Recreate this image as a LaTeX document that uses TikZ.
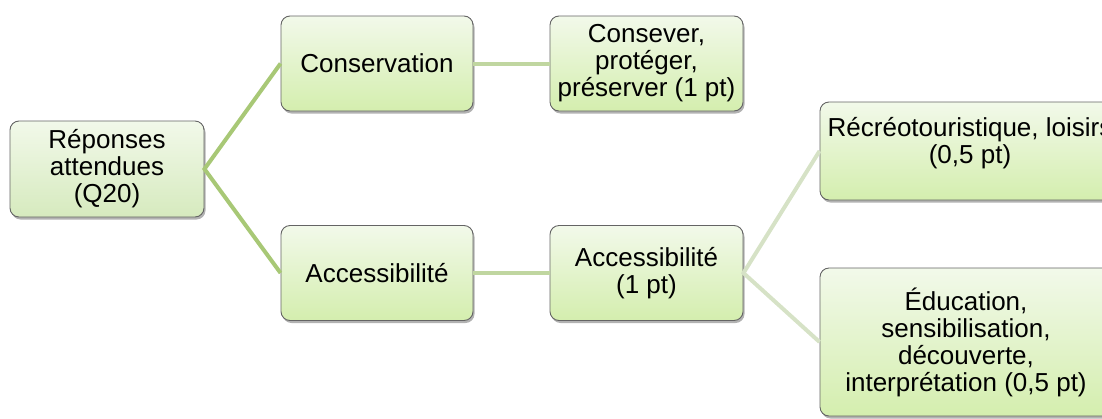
\documentclass[tikz,border=0pt]{standalone}
\usepackage{fontspec}
\setmainfont{Liberation Sans}
\usetikzlibrary{shadows}
\definecolor{boxtop}{RGB}{242,249,234}
\definecolor{boxbot}{RGB}{212,238,174}
\definecolor{rootbot}{RGB}{214,234,190}
\definecolor{boxline}{RGB}{100,100,100}
\definecolor{linkA}{RGB}{168,200,118}
\definecolor{linkB}{RGB}{192,214,160}
\definecolor{linkC}{RGB}{214,226,198}
\tikzset{
  box/.style={draw=boxline, line width=0.9pt, rounded corners=9pt,
    top color=boxtop, bottom color=boxbot, align=center,
    inner sep=0pt, font=\fontsize{26}{27}\selectfont,
    drop shadow={shadow xshift=1.5pt, shadow yshift=-2.5pt, fill=black, opacity=0.3}},
  link/.style={line width=4pt}
}
\begin{document}
\begin{tikzpicture}[x=1pt,y=1pt]
\useasboundingbox (0,0) rectangle (1102,-418);
\clip (0,0) rectangle (1102,-418);
\node[box, bottom color=rootbot, minimum width=194pt, minimum height=96pt] (root) at (107,-169) {Réponses\\attendues\\(Q20)};
\node[box, minimum width=192pt, minimum height=95pt] (cons) at (377,-63.5) {Conservation};
\node[box, minimum width=192pt, minimum height=95pt] (acc) at (377,-273) {Accessibilité};
\node[box, minimum width=193pt, minimum height=95pt] (consv) at (646.5,-63.5) {Consever,\\protéger,\\préserver (1 pt)};
\node[box, minimum width=193pt, minimum height=95pt] (acc1) at (646.5,-273) {Accessibilité\\(1 pt)};
\node[box, minimum width=300pt, minimum height=98pt] (recr) at (970,-151) {Récréotouristique, loisirs\\(0,5 pt)\\[-5pt]\mbox{}};
\node[box, minimum width=292pt, minimum height=148pt] (educ) at (966,-342) {Éducation,\\sensibilisation,\\découverte,\\interprétation (0,5 pt)};
\draw[link, linkA] (cons.west) -- (root.east) -- (acc.west);
\draw[link, linkB] (cons.east) -- (consv.west);
\draw[link, linkB] (acc.east) -- (acc1.west);
\draw[link, linkC] (recr.west) -- (acc1.east) -- (educ.west);
\end{tikzpicture}
\end{document}
